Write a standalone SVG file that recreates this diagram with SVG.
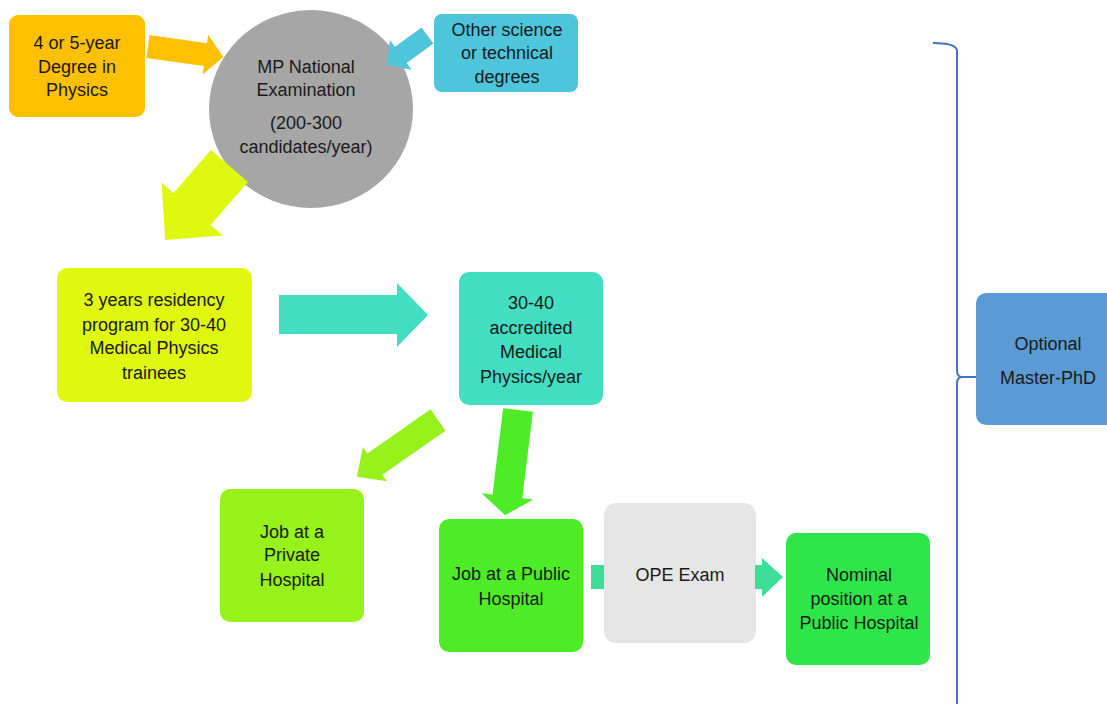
<svg xmlns="http://www.w3.org/2000/svg" width="1107" height="704" viewBox="0 0 1107 704">
<style>
text{font-family:"Liberation Sans",Arial,sans-serif;font-size:18px;fill:#1a1a1a;text-anchor:middle}
</style>
<rect width="1107" height="704" fill="#ffffff"/>
<g id="nodes">
<g id="n-degree"><rect x="9" y="15" width="136" height="102" rx="9" fill="#FFC000"/>
<text x="77" y="49">4 or 5-year</text><text x="77" y="73">Degree in</text><text x="77" y="96">Physics</text></g>
<g id="n-other"><rect x="434" y="14" width="144" height="78" rx="8" fill="#4EC5DA"/>
<text x="507" y="36">Other science</text><text x="507" y="59">or technical</text><text x="507" y="83">degrees</text></g>
<g id="n-exam"><ellipse cx="311" cy="109" rx="102" ry="99" fill="#A6A6A6"/>
<text x="306" y="73">MP National</text><text x="306" y="96">Examination</text><text x="306" y="129">(200-300</text><text x="306" y="153">candidates/year)</text></g>
<g id="n-residency"><rect x="57" y="268" width="195" height="134" rx="10" fill="#E0F80F"/>
<text x="154" y="306">3 years residency</text><text x="154" y="331">program for 30-40</text><text x="154" y="354">Medical Physics</text><text x="154" y="379">trainees</text></g>
<g id="n-accredited"><rect x="459" y="272" width="144" height="133" rx="10" fill="#43DEC1"/>
<text x="531" y="309">30-40</text><text x="531" y="334">accredited</text><text x="531" y="358">Medical</text><text x="531" y="383">Physics/year</text></g>
<g id="n-private"><rect x="220" y="489" width="144" height="133" rx="10" fill="#97F11A"/>
<text x="292" y="538">Job at a</text><text x="292" y="561">Private</text><text x="292" y="586">Hospital</text></g>
<g id="n-public"><rect x="439" y="519" width="144" height="133" rx="10" fill="#4EEC26"/>
<text x="511" y="580">Job at a Public</text><text x="511" y="605">Hospital</text></g>
<g id="n-ope"><rect x="591" y="565" width="14" height="24" fill="#3DDF98"/>
<rect x="604" y="503" width="152" height="140" rx="12" fill="#E6E6E6"/>
<text x="680" y="581">OPE Exam</text></g>
<g id="n-nominal"><rect x="786" y="533" width="144" height="132" rx="10" fill="#2EE64A"/>
<text x="859" y="581">Nominal</text><text x="859" y="605">position at a</text><text x="859" y="629">Public Hospital</text></g>
<g id="n-optional"><rect x="976" y="293" width="145" height="132" rx="10" fill="#5B9BD5"/>
<text x="1048" y="350">Optional</text><text x="1048" y="384">Master-PhD</text></g>
</g>
<g id="connectors">
<polygon fill="#FFC000" transform="translate(148,46.5) rotate(8)" points="0,-11.5 58,-11.5 58,-20 76,0 58,20 58,11.5 0,11.5"/>
<polygon fill="#4EC5DA" transform="translate(427.5,35.5) rotate(144)" points="0,-10 33,-10 33,-18.5 50,0 33,18.5 33,10 0,10"/>
<polygon fill="#E0F80F" transform="translate(229.5,166) rotate(131)" points="0,-24.5 57,-24.5 57,-40.5 98,0 57,40.5 57,24.5 0,24.5"/>
<polygon fill="#43DEC1" points="279,295 397,295 397,283 428,315 397,347 397,334 279,334"/>
<polygon fill="#97F11A" transform="translate(438,420) rotate(145)" points="0,-13 77,-13 77,-21 99,0 77,21 77,13 0,13"/>
<polygon fill="#4EEC26" transform="translate(518,410) rotate(97)" points="0,-15 87,-15 87,-26 106,0 87,26 87,15 0,15"/>
<polygon fill="#3DDF98" points="755,565 762,565 762,558 783,577 762,597 762,589 755,589"/>
<path d="M933,43 Q955,43 957,50 L957,370 Q957,377 962,377 L976,377 M962,377 Q957,377 957,384 L957,704" fill="none" stroke="#4472C4" stroke-width="2"/>
</g>
</svg>
